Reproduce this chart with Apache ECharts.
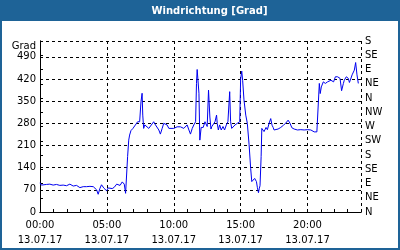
<!DOCTYPE html>
<html><head><meta charset="utf-8">
<script src="https://cdn.jsdelivr.net/npm/echarts@6/dist/echarts.min.js"></script>
<style>html,body{margin:0;padding:0;background:#fff}#c{width:400px;height:250px}</style>
</head><body><div id="c"></div><script>
const chartTitle = 'Windrichtung [Grad]';
const dateLabel = '13.07.17';
const leftAxisName = 'Grad';
const compassLabels = ['N','NE','E','SE','S','SW','W','NW','N','NE','E','SE','S'];
const times = ['00:00','00:06','00:14','00:29','00:44','00:59','01:14','01:29','01:44','01:59','02:14','02:29','02:44','02:59','03:06','03:14','03:29','03:44','03:59','04:14','04:21','04:29','04:36','04:47','04:59','05:06','05:14','05:24','05:33','05:44','05:51','05:59','06:09','06:18','06:24','06:29','06:33','06:38','06:42','06:48','06:57','07:08','07:18','07:27','07:33','07:38','07:41','07:45','07:50','07:57','08:08','08:15','08:30','08:38','08:45','08:53','09:00','09:08','09:15','09:23','09:30','09:38','09:45','10:00','10:15','10:23','10:30','10:38','10:45','10:53','11:00','11:08','11:15','11:23','11:30','11:38','11:42','11:45','11:53','11:57','12:03','12:12','12:20','12:30','12:36','12:42','12:47','12:51','12:57','13:05','13:12','13:15','13:20','13:26','13:33','13:41','13:48','13:56','14:03','14:11','14:15','14:20','14:26','14:35','14:45','14:56','15:00','15:05','15:09','15:15','15:23','15:30','15:38','15:45','15:50','15:54','16:03','16:11','16:15','16:20','16:24','16:27','16:32','16:35','16:39','16:45','16:54','17:00','17:08','17:15','17:21','17:26','17:30','17:38','17:48','18:00','18:12','18:23','18:33','18:41','18:50','19:00','19:15','19:30','19:45','20:00','20:15','20:30','20:42','20:53','20:57','21:02','21:11','21:20','21:30','21:38','21:45','21:57','22:05','22:15','22:26','22:33','22:41','22:45','22:54','23:03','23:08','23:12','23:20','23:30','23:36','23:42','23:48','23:53'];
const values = [92,85,82,87,88,85,87,84,85,83,88,82,84,77,82,80,80,81,80,70,56,75,86,75,67,76,70,74,78,88,90,84,95,88,59,54,175,227,243,257,264,275,285,285,348,375,306,264,275,269,264,269,285,275,269,259,246,264,280,285,275,264,264,264,269,264,269,271,264,259,275,259,246,264,275,285,406,450,375,227,267,267,285,270,385,300,262,270,266,285,306,280,259,275,259,270,259,275,285,380,285,264,269,275,280,285,420,445,416,354,306,280,212,138,96,95,106,96,78,61,75,83,175,264,262,254,267,260,281,295,274,267,259,257,262,267,274,281,290,281,266,262,259,260,259,260,259,253,253,406,374,395,411,406,411,406,416,411,427,427,422,383,406,416,427,422,409,416,433,448,472,433,406];

const toHours = t => { const p = t.split(':'); return +p[0] + (+p[1]) / 60; };
const seriesData = times.map((t, i) => [toHours(t), values[i]]);
const pad = n => (n < 10 ? '0' : '') + n;
const font = { fontFamily: 'DejaVu Sans', fontSize: 10, color: '#000' };
const axisBlack = { lineStyle: { color: '#000', width: 1 } };
const dashed = { show: true, lineStyle: { color: '#000', type: [3, 3], width: 1 } };

const chart = echarts.init(document.getElementById('c'), null, { renderer: 'canvas' });
chart.setOption({
  animation: false,
  backgroundColor: '#fff',
  graphic: [
    { type: 'rect', shape: { x: 0, y: 0, width: 400, height: 21 }, style: { fill: '#1E6397' }, z: 0 },
    { type: 'rect', shape: { x: 1, y: 1, width: 398, height: 248 }, style: { fill: null, stroke: '#1E6397', lineWidth: 2 }, z: 0 },
    { type: 'text', x: 209.5, y: 11, style: { text: chartTitle, fill: '#fff', font: 'bold 10px "DejaVu Sans"', textAlign: 'center', textVerticalAlign: 'middle' }, z: 10 }
  ],
  grid: { left: 40, right: 39, top: 41, bottom: 38, containLabel: false },
  xAxis: [
    {
      type: 'value', min: 0, max: 24, interval: 1, position: 'bottom',
      axisLine: { show: true, ...axisBlack },
      axisTick: { show: true, inside: true, length: 3, lineStyle: { color: '#000' } },
      axisLabel: Object.assign({ margin: 6, lineHeight: 15, formatter: v => (v % 5 === 0 && v < 24) ? pad(v) + ':00\n' + dateLabel : '' }, font),
      splitLine: { show: false }
    },
    {
      type: 'value', min: 0, max: 24, interval: 5, position: 'top',
      axisLine: { show: true, ...axisBlack },
      axisTick: { show: false }, axisLabel: { show: false },
      splitLine: dashed
    }
  ],
  yAxis: [
    {
      type: 'value', min: 0, max: 540, interval: 70, position: 'left',
      axisLine: { show: true, ...axisBlack },
      axisTick: { show: false },
      axisLabel: Object.assign({ margin: 4, formatter: v => v === 540 ? '{g|' + leftAxisName + '}' : String(v),
        rich: { g: { fontFamily: 'DejaVu Sans', fontSize: 10, color: '#000', padding: [10, 0, 0, 0] } } }, font),
      splitLine: dashed
    },
    {
      type: 'value', min: 0, max: 540, interval: 45, position: 'right',
      axisLine: { show: true, ...axisBlack },
      axisTick: { show: true, inside: false, length: 3, lineStyle: { color: '#000' } },
      axisLabel: Object.assign({ margin: 4, formatter: v => compassLabels[Math.round(v / 45)] || '' }, font),
      splitLine: { show: false }
    }
  ],
  series: [{
    type: 'line', xAxisIndex: 0, yAxisIndex: 0, data: seriesData,
    symbol: 'none', lineStyle: { color: '#0000F0', width: 1 }, z: 5
  }]
});
</script></body></html>
